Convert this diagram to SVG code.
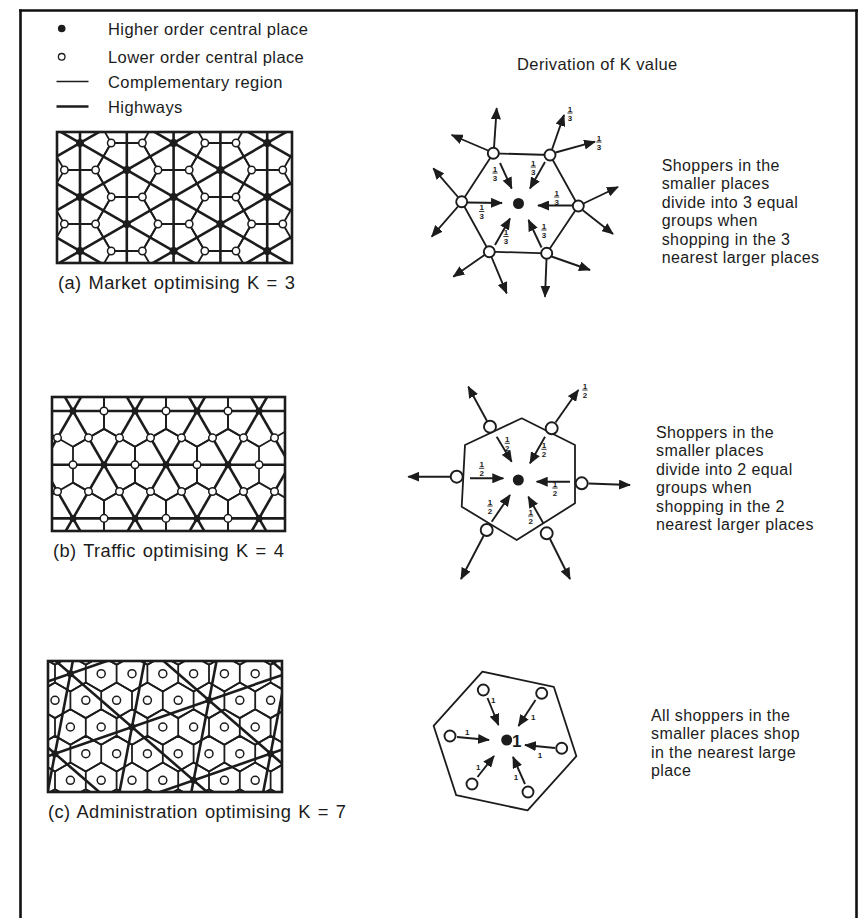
<svg xmlns="http://www.w3.org/2000/svg" xmlns:xlink="http://www.w3.org/1999/xlink" width="858" height="918" viewBox="0 0 858 918">
<style>
text{font-family:"Liberation Sans",Arial,sans-serif;fill:#1c1c1c}
.lg{font-size:16.5px;letter-spacing:0.4px}
.bt{font-size:16px;letter-spacing:0.4px}
.cap{font-size:18.3px;letter-spacing:0.4px;word-spacing:1.5px}
.hw{stroke:#1c1c1c;stroke-width:2.6;fill:none;stroke-linecap:butt}
.cr{stroke:#1c1c1c;stroke-width:1.8;fill:none;stroke-linejoin:round}
.frame{stroke:#1c1c1c;stroke-width:2.6;fill:none}
.lo{fill:#fff;stroke:#1c1c1c;stroke-width:1.5}
.lod{fill:#fff;stroke:#1c1c1c;stroke-width:1.9}
.hi{fill:#1c1c1c}
.ar{stroke:#1c1c1c;stroke-width:1.9;fill:none;marker-end:url(#ah)}
.fr text{font-size:8px;font-weight:bold;text-anchor:middle}
.fr line{stroke:#1c1c1c;stroke-width:0.9}
.one{font-size:8px;font-weight:bold;text-anchor:middle}
.page{stroke:#111;stroke-width:2.6;fill:none}
</style>
<defs>
<marker id="ah" viewBox="0 0 12 10" refX="11" refY="5" markerWidth="12" markerHeight="10" markerUnits="userSpaceOnUse" orient="auto"><path d="M0,0 L12,5 L0,10 z" fill="#1c1c1c"/></marker>
<path id="hxa" d="M-31.2,0 l15.6,-27 h31.2 l15.6,27 l-15.6,27 h-31.2 z"/>
<path id="hxb" d="M0,-35.8 l31,17.9 v35.8 l-31,17.9 l-31,-17.9 v-35.8 z"/>
<path id="hrc" d="M24.2,0 l15.4,8.89v17.78l-15.4,8.89l-15.4,-8.89v-17.78z m30.8,0 l15.4,8.89v17.78l-15.4,8.89l-15.4,-8.89v-17.78z m30.8,0 l15.4,8.89v17.78l-15.4,8.89l-15.4,-8.89v-17.78z m30.8,0 l15.4,8.89v17.78l-15.4,8.89l-15.4,-8.89v-17.78z m30.8,0 l15.4,8.89v17.78l-15.4,8.89l-15.4,-8.89v-17.78z m30.8,0 l15.4,8.89v17.78l-15.4,8.89l-15.4,-8.89v-17.78z m30.8,0 l15.4,8.89v17.78l-15.4,8.89l-15.4,-8.89v-17.78z m30.8,0 l15.4,8.89v17.78l-15.4,8.89l-15.4,-8.89v-17.78z m30.8,0 l15.4,8.89v17.78l-15.4,8.89l-15.4,-8.89v-17.78z m30.8,0 l15.4,8.89v17.78l-15.4,8.89l-15.4,-8.89v-17.78z m30.8,0 l15.4,8.89v17.78l-15.4,8.89l-15.4,-8.89v-17.78z"/>
<clipPath id="ca"><rect x="57" y="132" width="235" height="131"/></clipPath>
<clipPath id="cb"><rect x="52" y="397" width="233" height="134"/></clipPath>
<clipPath id="cc"><rect x="48" y="661" width="234" height="131"/></clipPath>
</defs>
<rect width="858" height="918" fill="#fff"/>
<g id="page-frame" class="page">
<line x1="19" y1="10.5" x2="858" y2="10.5"/>
<line x1="20.5" y1="9.5" x2="20.5" y2="918"/>
<line x1="856.5" y1="9.5" x2="856.5" y2="918"/>
</g>

<g id="legend">
<g id="legend-higher"><circle class="hi" cx="61.7" cy="28.5" r="3.8"/><text class="lg" x="108" y="34.5">Higher order central place</text></g>
<g id="legend-lower"><circle cx="61.7" cy="56.8" r="3.3" fill="#fff" stroke="#1c1c1c" stroke-width="1.3"/><text class="lg" x="108" y="62.5">Lower order central place</text></g>
<g id="legend-region"><line x1="56.5" y1="81.5" x2="88.5" y2="81.5" stroke="#1c1c1c" stroke-width="1.4"/><text class="lg" x="108" y="87.5">Complementary region</text></g>
<g id="legend-highway"><line x1="56.5" y1="106.5" x2="88.5" y2="106.5" stroke="#1c1c1c" stroke-width="2.6"/><text class="lg" x="108" y="112.5">Highways</text></g>
</g>
<text id="title" class="lg" x="517" y="70">Derivation of K value</text>

<!-- Panel A lattice -->
<g id="lattice-a">
<g clip-path="url(#ca)">
<g class="hw">
<line x1="80" y1="128" x2="80" y2="268"/><line x1="126.8" y1="128" x2="126.8" y2="268"/><line x1="173.6" y1="128" x2="173.6" y2="268"/><line x1="220.4" y1="128" x2="220.4" y2="268"/><line x1="267.2" y1="128" x2="267.2" y2="268"/>
<line x1="50" y1="17.69" x2="300" y2="161.92"/><line x1="50" y1="71.69" x2="300" y2="215.92"/><line x1="50" y1="125.69" x2="300" y2="269.92"/><line x1="50" y1="179.69" x2="300" y2="323.92"/><line x1="50" y1="233.69" x2="300" y2="377.92"/>
<line x1="50" y1="160.31" x2="300" y2="16.08"/><line x1="50" y1="214.31" x2="300" y2="70.08"/><line x1="50" y1="268.31" x2="300" y2="124.08"/><line x1="50" y1="322.31" x2="300" y2="178.08"/><line x1="50" y1="376.31" x2="300" y2="232.08"/>
</g>
<g class="cr">
<use xlink:href="#hxa" x="80" y="143"/><use xlink:href="#hxa" x="80" y="197"/><use xlink:href="#hxa" x="80" y="251"/>
<use xlink:href="#hxa" x="173.6" y="143"/><use xlink:href="#hxa" x="173.6" y="197"/><use xlink:href="#hxa" x="173.6" y="251"/>
<use xlink:href="#hxa" x="267.2" y="143"/><use xlink:href="#hxa" x="267.2" y="197"/><use xlink:href="#hxa" x="267.2" y="251"/>
<use xlink:href="#hxa" x="126.8" y="170"/><use xlink:href="#hxa" x="126.8" y="224"/><use xlink:href="#hxa" x="220.4" y="170"/><use xlink:href="#hxa" x="220.4" y="224"/>
</g>
<g class="lo">
<circle cx="111.2" cy="143" r="3.7"/><circle cx="142.4" cy="143" r="3.7"/><circle cx="204.8" cy="143" r="3.7"/><circle cx="236" cy="143" r="3.7"/>
<circle cx="111.2" cy="197" r="3.7"/><circle cx="142.4" cy="197" r="3.7"/><circle cx="204.8" cy="197" r="3.7"/><circle cx="236" cy="197" r="3.7"/>
<circle cx="111.2" cy="251" r="3.7"/><circle cx="142.4" cy="251" r="3.7"/><circle cx="204.8" cy="251" r="3.7"/><circle cx="236" cy="251" r="3.7"/>
<circle cx="64.4" cy="170" r="3.7"/><circle cx="95.6" cy="170" r="3.7"/><circle cx="158" cy="170" r="3.7"/><circle cx="189.2" cy="170" r="3.7"/><circle cx="251.6" cy="170" r="3.7"/><circle cx="282.8" cy="170" r="3.7"/>
<circle cx="64.4" cy="224" r="3.7"/><circle cx="95.6" cy="224" r="3.7"/><circle cx="158" cy="224" r="3.7"/><circle cx="189.2" cy="224" r="3.7"/><circle cx="251.6" cy="224" r="3.7"/><circle cx="282.8" cy="224" r="3.7"/>
</g>
<g class="hi">
<circle cx="80" cy="143" r="4"/><circle cx="80" cy="197" r="4"/><circle cx="80" cy="251" r="4"/>
<circle cx="173.6" cy="143" r="4"/><circle cx="173.6" cy="197" r="4"/><circle cx="173.6" cy="251" r="4"/>
<circle cx="267.2" cy="143" r="4"/><circle cx="267.2" cy="197" r="4"/><circle cx="267.2" cy="251" r="4"/>
<circle cx="126.8" cy="170" r="4"/><circle cx="126.8" cy="224" r="4"/><circle cx="220.4" cy="170" r="4"/><circle cx="220.4" cy="224" r="4"/>
</g>
</g>
<rect class="frame" x="57" y="132" width="235" height="131"/>
</g>
<text id="caption-a" class="cap" x="58" y="289">(a) Market optimising K = 3</text>

<!-- Panel A derivation -->
<g id="deriv-a">
<polygon class="cr" points="493.3,153.3 550,155 578.3,206 546.7,253.3 489.3,251.7 461.7,201.7"/>
<g id="arrows-a">
<line class="ar" x1="500" y1="163" x2="511.7" y2="188.5"/>
<line class="ar" x1="545" y1="162" x2="530" y2="188.5"/>
<line class="ar" x1="572" y1="205.5" x2="538" y2="205.5"/>
<line class="ar" x1="541.5" y1="247.5" x2="528.5" y2="220"/>
<line class="ar" x1="495" y1="245" x2="510" y2="218.5"/>
<line class="ar" x1="467.5" y1="202.5" x2="502" y2="203"/>
<line class="ar" x1="494" y1="147.5" x2="496.7" y2="108.3"/>
<line class="ar" x1="488" y1="150.5" x2="451.7" y2="135"/>
<line class="ar" x1="552" y1="149.5" x2="564" y2="115"/>
<line class="ar" x1="555.5" y1="152.5" x2="595" y2="141.7"/>
<line class="ar" x1="583.5" y1="203.5" x2="618" y2="187"/>
<line class="ar" x1="582.5" y1="210" x2="613" y2="234"/>
<line class="ar" x1="458" y1="197" x2="433.3" y2="168.3"/>
<line class="ar" x1="458" y1="206.5" x2="431.7" y2="236.7"/>
<line class="ar" x1="484.5" y1="255" x2="453.3" y2="276.7"/>
<line class="ar" x1="491.5" y1="257" x2="506.7" y2="293.3"/>
<line class="ar" x1="546.5" y1="259" x2="545" y2="296.7"/>
<line class="ar" x1="551.5" y1="256.5" x2="590" y2="270"/>
</g>
<g class="lod">
<circle cx="493.3" cy="153.3" r="5.5"/><circle cx="550" cy="155" r="5.5"/><circle cx="578.3" cy="206" r="5.5"/><circle cx="546.7" cy="253.3" r="5.5"/><circle cx="489.3" cy="251.7" r="5.5"/><circle cx="461.7" cy="201.7" r="5.5"/>
</g>
<circle class="hi" cx="518.5" cy="203.5" r="5.5"/>
<g class="fr" transform="translate(495,173)"><text y="-1.3">1</text><line x1="-2.6" y1="0" x2="2.6" y2="0"/><text y="7.5">3</text></g>
<g class="fr" transform="translate(533.3,167)"><text y="-1.3">1</text><line x1="-2.6" y1="0" x2="2.6" y2="0"/><text y="7.5">3</text></g>
<g class="fr" transform="translate(556.7,197)"><text y="-1.3">1</text><line x1="-2.6" y1="0" x2="2.6" y2="0"/><text y="7.5">3</text></g>
<g class="fr" transform="translate(481.7,211.5)"><text y="-1.3">1</text><line x1="-2.6" y1="0" x2="2.6" y2="0"/><text y="7.5">3</text></g>
<g class="fr" transform="translate(506,236.5)"><text y="-1.3">1</text><line x1="-2.6" y1="0" x2="2.6" y2="0"/><text y="7.5">3</text></g>
<g class="fr" transform="translate(544,230)"><text y="-1.3">1</text><line x1="-2.6" y1="0" x2="2.6" y2="0"/><text y="7.5">3</text></g>
<g class="fr" transform="translate(570,113)"><text y="-1.3">1</text><line x1="-2.6" y1="0" x2="2.6" y2="0"/><text y="7.5">3</text></g>
<g class="fr" transform="translate(599,142)"><text y="-1.3">1</text><line x1="-2.6" y1="0" x2="2.6" y2="0"/><text y="7.5">3</text></g>
</g>
<g id="text-a" class="bt">
<text x="661.7" y="170.5">Shoppers in the</text>
<text x="661.7" y="189">smaller places</text>
<text x="661.7" y="207.5">divide into 3 equal</text>
<text x="661.7" y="226">groups when</text>
<text x="661.7" y="244.5">shopping in the 3</text>
<text x="661.7" y="263">nearest larger places</text>
</g>

<!-- Panel B lattice -->
<g id="lattice-b">
<g clip-path="url(#cb)">
<g class="hw">
<line x1="45" y1="411" x2="292" y2="411"/><line x1="45" y1="464.7" x2="292" y2="464.7"/><line x1="45" y1="518.4" x2="292" y2="518.4"/>
<line x1="-1.12" y1="390" x2="85.48" y2="540"/><line x1="60.88" y1="390" x2="147.48" y2="540"/><line x1="122.88" y1="390" x2="209.48" y2="540"/><line x1="184.88" y1="390" x2="271.48" y2="540"/><line x1="246.88" y1="390" x2="333.48" y2="540"/>
<line x1="85.12" y1="390" x2="-1.48" y2="540"/><line x1="147.12" y1="390" x2="60.52" y2="540"/><line x1="209.12" y1="390" x2="122.52" y2="540"/><line x1="271.12" y1="390" x2="184.52" y2="540"/><line x1="333.12" y1="390" x2="246.52" y2="540"/>
</g>
<g class="cr">
<use xlink:href="#hxb" x="73" y="411"/><use xlink:href="#hxb" x="135" y="411"/><use xlink:href="#hxb" x="197" y="411"/><use xlink:href="#hxb" x="259" y="411"/>
<use xlink:href="#hxb" x="104" y="464.7"/><use xlink:href="#hxb" x="166" y="464.7"/><use xlink:href="#hxb" x="228" y="464.7"/>
<use xlink:href="#hxb" x="73" y="518.4"/><use xlink:href="#hxb" x="135" y="518.4"/><use xlink:href="#hxb" x="197" y="518.4"/><use xlink:href="#hxb" x="259" y="518.4"/>
</g>
<g class="lo">
<circle cx="104" cy="411" r="3.8"/><circle cx="166" cy="411" r="3.8"/><circle cx="228" cy="411" r="3.8"/>
<circle cx="57.5" cy="437.85" r="3.8"/><circle cx="88.5" cy="437.85" r="3.8"/><circle cx="119.5" cy="437.85" r="3.8"/><circle cx="150.5" cy="437.85" r="3.8"/><circle cx="181.5" cy="437.85" r="3.8"/><circle cx="212.5" cy="437.85" r="3.8"/><circle cx="243.5" cy="437.85" r="3.8"/><circle cx="274.5" cy="437.85" r="3.8"/>
<circle cx="73" cy="464.7" r="3.8"/><circle cx="135" cy="464.7" r="3.8"/><circle cx="197" cy="464.7" r="3.8"/><circle cx="259" cy="464.7" r="3.8"/>
<circle cx="57.5" cy="491.55" r="3.8"/><circle cx="88.5" cy="491.55" r="3.8"/><circle cx="119.5" cy="491.55" r="3.8"/><circle cx="150.5" cy="491.55" r="3.8"/><circle cx="181.5" cy="491.55" r="3.8"/><circle cx="212.5" cy="491.55" r="3.8"/><circle cx="243.5" cy="491.55" r="3.8"/><circle cx="274.5" cy="491.55" r="3.8"/>
<circle cx="104" cy="518.4" r="3.8"/><circle cx="166" cy="518.4" r="3.8"/><circle cx="228" cy="518.4" r="3.8"/>
</g>
<g class="hi">
<circle cx="73" cy="411" r="3.5"/><circle cx="135" cy="411" r="3.5"/><circle cx="197" cy="411" r="3.5"/><circle cx="259" cy="411" r="3.5"/>
<circle cx="104" cy="464.7" r="3.5"/><circle cx="166" cy="464.7" r="3.5"/><circle cx="228" cy="464.7" r="3.5"/>
<circle cx="73" cy="518.4" r="3.5"/><circle cx="135" cy="518.4" r="3.5"/><circle cx="197" cy="518.4" r="3.5"/><circle cx="259" cy="518.4" r="3.5"/>
</g>
</g>
<rect class="frame" x="52" y="397" width="233" height="134"/>
</g>
<text id="caption-b" class="cap" x="53" y="557">(b) Traffic optimising K = 4</text>

<!-- Panel B derivation -->
<g id="deriv-b">
<polygon class="cr" points="521.7,418.3 575,445 575,503.3 516.7,540 461.7,506.7 465,445"/>
<g id="arrows-b">
<line class="ar" x1="496.7" y1="436.7" x2="511.7" y2="461.7"/>
<line class="ar" x1="545" y1="436.7" x2="530" y2="463.3"/>
<line class="ar" x1="470" y1="478.3" x2="503.3" y2="478.3"/>
<line class="ar" x1="570" y1="481.7" x2="536.7" y2="481.7"/>
<line class="ar" x1="491.7" y1="521.7" x2="510" y2="495"/>
<line class="ar" x1="543.3" y1="523.3" x2="528.3" y2="496.7"/>
<line class="ar" x1="487" y1="421" x2="468.3" y2="386.7"/>
<line class="ar" x1="555.5" y1="422.5" x2="578.3" y2="390"/>
<line class="ar" x1="450" y1="476.7" x2="408.3" y2="476.7"/>
<line class="ar" x1="588.5" y1="483.5" x2="630" y2="485"/>
<line class="ar" x1="483.5" y1="536" x2="461" y2="579"/>
<line class="ar" x1="550" y1="539" x2="570" y2="579"/>
</g>
<g class="lod">
<circle cx="490" cy="426.7" r="6"/><circle cx="551.7" cy="428.3" r="6"/><circle cx="456.7" cy="476.7" r="6"/><circle cx="581.7" cy="483.3" r="6"/><circle cx="486.7" cy="530" r="6"/><circle cx="546.7" cy="533.3" r="6"/>
</g>
<circle class="hi" cx="518.3" cy="480" r="5.5"/>
<g class="fr" transform="translate(507.3,443.3)"><text y="-1.3">1</text><line x1="-2.6" y1="0" x2="2.6" y2="0"/><text y="7.5">2</text></g>
<g class="fr" transform="translate(544,449.3)"><text y="-1.3">1</text><line x1="-2.6" y1="0" x2="2.6" y2="0"/><text y="7.5">2</text></g>
<g class="fr" transform="translate(481.7,468.3)"><text y="-1.3">1</text><line x1="-2.6" y1="0" x2="2.6" y2="0"/><text y="7.5">2</text></g>
<g class="fr" transform="translate(555,488)"><text y="-1.3">1</text><line x1="-2.6" y1="0" x2="2.6" y2="0"/><text y="7.5">2</text></g>
<g class="fr" transform="translate(490,506)"><text y="-1.3">1</text><line x1="-2.6" y1="0" x2="2.6" y2="0"/><text y="7.5">2</text></g>
<g class="fr" transform="translate(530.7,516)"><text y="-1.3">1</text><line x1="-2.6" y1="0" x2="2.6" y2="0"/><text y="7.5">2</text></g>
<g class="fr" transform="translate(585,390)"><text y="-1.3">1</text><line x1="-2.6" y1="0" x2="2.6" y2="0"/><text y="7.5">2</text></g>
</g>
<g id="text-b" class="bt">
<text x="656" y="437.5">Shoppers in the</text>
<text x="656" y="456">smaller places</text>
<text x="656" y="474.5">divide into 2 equal</text>
<text x="656" y="493">groups when</text>
<text x="656" y="511.5">shopping in the 2</text>
<text x="656" y="530">nearest larger places</text>
</g>

<!-- Panel C lattice -->
<g id="lattice-c">
<g clip-path="url(#cc)">
<g class="hw">
<line x1="40" y1="684.19" x2="290" y2="597.61"/><line x1="40" y1="758.86" x2="290" y2="672.28"/><line x1="40" y1="833.53" x2="290" y2="746.95"/>
<line x1="40" y1="740.68" x2="290" y2="957.13"/><line x1="40" y1="647.35" x2="290" y2="863.8"/><line x1="40" y1="554.02" x2="290" y2="770.47"/><line x1="40" y1="460.69" x2="290" y2="677.14"/>
<line x1="74.95" y1="650" x2="46.08" y2="800"/><line x1="146.82" y1="650" x2="117.95" y2="800"/><line x1="218.69" y1="650" x2="189.82" y2="800"/><line x1="290.56" y1="650" x2="261.69" y2="800"/>
</g>
<g class="cr">
<use xlink:href="#hrc" x="0" y="629.22"/><use xlink:href="#hrc" x="15.4" y="655.89"/><use xlink:href="#hrc" x="0" y="682.55"/><use xlink:href="#hrc" x="15.4" y="709.22"/><use xlink:href="#hrc" x="0" y="735.89"/><use xlink:href="#hrc" x="15.4" y="762.55"/><use xlink:href="#hrc" x="0" y="789.22"/>
</g>
<g class="lo">
<circle cx="101.2" cy="673.67" r="4"/><circle cx="132" cy="673.67" r="4"/><circle cx="162.8" cy="673.67" r="4"/><circle cx="193.6" cy="673.67" r="4"/><circle cx="224.4" cy="673.67" r="4"/><circle cx="255.2" cy="673.67" r="4"/>
<circle cx="55" cy="700.33" r="4"/><circle cx="85.8" cy="700.33" r="4"/><circle cx="116.6" cy="700.33" r="4"/><circle cx="147.4" cy="700.33" r="4"/><circle cx="178.2" cy="700.33" r="4"/><circle cx="239.8" cy="700.33" r="4"/><circle cx="270.6" cy="700.33" r="4"/>
<circle cx="70.4" cy="727" r="4"/><circle cx="101.2" cy="727" r="4"/><circle cx="162.8" cy="727" r="4"/><circle cx="193.6" cy="727" r="4"/><circle cx="224.4" cy="727" r="4"/><circle cx="255.2" cy="727" r="4"/>
<circle cx="85.8" cy="753.67" r="4"/><circle cx="116.6" cy="753.67" r="4"/><circle cx="147.4" cy="753.67" r="4"/><circle cx="178.2" cy="753.67" r="4"/><circle cx="209" cy="753.67" r="4"/><circle cx="239.8" cy="753.67" r="4"/>
<circle cx="70.4" cy="780.33" r="4"/><circle cx="101.2" cy="780.33" r="4"/><circle cx="132" cy="780.33" r="4"/><circle cx="162.8" cy="780.33" r="4"/><circle cx="224.4" cy="780.33" r="4"/><circle cx="255.2" cy="780.33" r="4"/>
</g>
<g class="hi">
<circle cx="70.4" cy="673.67" r="3.5"/><circle cx="209" cy="700.33" r="3.5"/><circle cx="132" cy="727" r="3.5"/><circle cx="55" cy="753.67" r="3.5"/><circle cx="270.6" cy="753.67" r="3.5"/><circle cx="193.6" cy="780.33" r="3.5"/>
</g>
</g>
<rect class="frame" x="48" y="661" width="234" height="131"/>
</g>
<text id="caption-c" class="cap" x="48" y="818">(c) Administration optimising K = 7</text>

<!-- Panel C derivation -->
<g id="deriv-c">
<polygon class="cr" points="576.4,756.2 527.6,810.4 456.2,795.2 433.6,725.8 482.4,671.6 553.8,686.8"/>
<g id="arrows-c">
<line class="ar" x1="487.5" y1="698" x2="498.5" y2="725"/>
<line class="ar" x1="535.5" y1="700" x2="518.5" y2="726"/>
<line class="ar" x1="457" y1="737" x2="489" y2="740"/>
<line class="ar" x1="555" y1="748" x2="525" y2="745"/>
<line class="ar" x1="477.5" y1="777" x2="494" y2="756"/>
<line class="ar" x1="525" y1="784" x2="513" y2="757"/>
</g>
<g class="lod">
<circle cx="483.3" cy="690" r="5.5"/><circle cx="541.7" cy="693.3" r="5.5"/><circle cx="450" cy="736" r="5.5"/><circle cx="561.7" cy="748.3" r="5.5"/><circle cx="472" cy="784" r="5.5"/><circle cx="528" cy="792" r="5.5"/>
</g>
<circle class="hi" cx="506.7" cy="740" r="5.5"/>
<text x="512" y="746.5" font-size="17" font-weight="bold">1</text>
<text class="one" x="493.3" y="703">1</text>
<text class="one" x="533.3" y="720">1</text>
<text class="one" x="467.3" y="734.5">1</text>
<text class="one" x="540" y="758">1</text>
<text class="one" x="478.3" y="769.5">1</text>
<text class="one" x="516" y="780">1</text>
</g>
<g id="text-c" class="bt">
<text x="651" y="720.5">All shoppers in the</text>
<text x="651" y="739">smaller places shop</text>
<text x="651" y="757.5">in the nearest large</text>
<text x="651" y="776">place</text>
</g>
</svg>
